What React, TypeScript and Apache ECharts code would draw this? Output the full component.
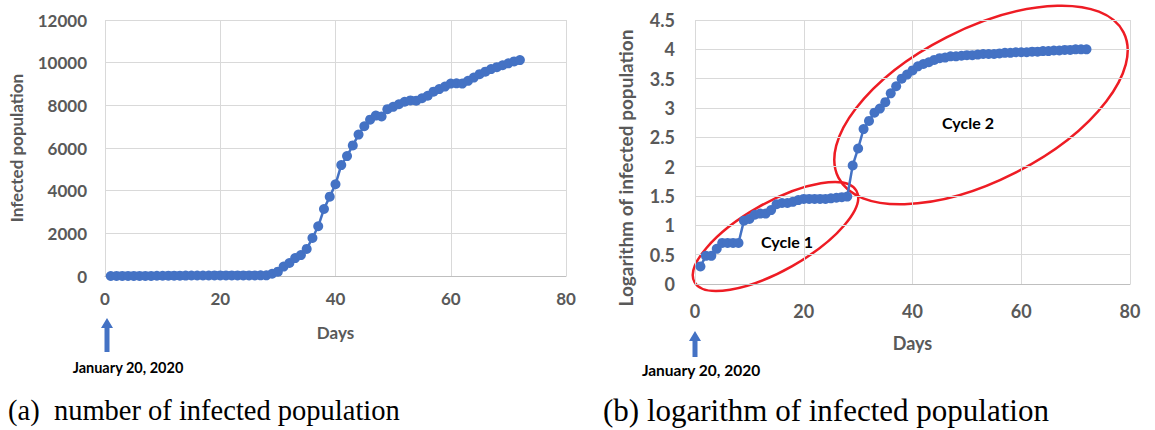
import React, { useEffect, useRef } from "react";
import * as echarts from "echarts";

const DAYS = [
  1, 2, 3, 4, 5, 6, 7, 8, 9, 10, 11, 12, 13, 14, 15, 16, 17, 18, 19, 20, 21, 22, 23, 24,
  25, 26, 27, 28, 29, 30, 31, 32, 33, 34, 35, 36, 37, 38, 39, 40, 41, 42, 43, 44, 45, 46, 47, 48,
  49, 50, 51, 52, 53, 54, 55, 56, 57, 58, 59, 60, 61, 62, 63, 64, 65, 66, 67, 68, 69, 70, 71, 72,
];

const INFECTED = [
  2, 3, 3, 4, 5, 5, 5, 5, 12, 13, 15, 16, 16, 18, 23, 24, 24, 25, 27, 28, 28, 28, 28, 28,
  29, 29, 30, 31, 104, 204, 440, 610, 840, 980, 1270, 1780, 2330, 3140, 3720, 4300, 5200, 5620, 6120, 6630, 7020, 7330, 7520, 7480,
  7820, 7930, 8050, 8170, 8230, 8220, 8330, 8450, 8640, 8760, 8880, 9020, 9030, 9020, 9150, 9300, 9460, 9580, 9700, 9790, 9880, 9970, 10060, 10120,
];

const LOG_INFECTED = [
  0.3, 0.48, 0.48, 0.6, 0.7, 0.7, 0.7, 0.7, 1.08, 1.11, 1.18, 1.2, 1.2, 1.26, 1.36, 1.38, 1.38, 1.4, 1.43, 1.45, 1.45, 1.45, 1.45, 1.45,
  1.46, 1.47, 1.48, 1.49, 2.02, 2.31, 2.64, 2.78, 2.92, 2.99, 3.1, 3.25, 3.37, 3.5, 3.57, 3.64, 3.71, 3.75, 3.78, 3.82, 3.85, 3.86, 3.88, 3.88,
  3.89, 3.9, 3.9, 3.91, 3.92, 3.92, 3.92, 3.93, 3.94, 3.94, 3.95, 3.95, 3.95, 3.96, 3.96, 3.97, 3.97, 3.98, 3.98, 3.99, 3.99, 4.0, 4.0, 4.0,
];

const X_MIN = 0;
const X_MAX = 80;
const X_STEP = 20;
const Y1_MAX = 12000;
const Y1_STEP = 2000;
const Y2_MAX = 4.5;
const Y2_STEP = 0.5;

const X_NAME = "Days";
const Y1_NAME = "Infected population";
const Y2_NAME = "Logarithm of infected population";
const START_LABEL = "January 20, 2020";
const CAPTION_A = "(a)  number of infected population";
const CAPTION_B = "(b) logarithm of infected population";
const CYCLE_LABELS = ["Cycle 1", "Cycle 2"];

const BLUE = "#4472C4";
const RED = "#EE1C24";
const GRID = "#D9D9D9";
const LABEL_GRAY = "#595959";
const FONT = "Lato, 'Open Sans', sans-serif";

export default function App() {
  const ref = useRef<HTMLDivElement>(null);

  useEffect(() => {
    if (!ref.current) return;
    const chart = echarts.init(ref.current, null, { renderer: "svg" });

    const labelStyle = (size: number) => ({
      color: LABEL_GRAY,
      fontFamily: FONT,
      fontWeight: "bold" as const,
      fontSize: size,
    });

    const plain = (v: number) => String(v);

    const xAxisBase = {
      type: "value" as const,
      min: X_MIN,
      max: X_MAX,
      interval: X_STEP,
      name: X_NAME,
      nameLocation: "middle" as const,
      axisLine: { show: true, lineStyle: { color: "#BFBFBF", width: 1 } },
      axisTick: { show: false },
      splitLine: { show: true, lineStyle: { color: GRID, width: 1 } },
    };

    const yAxisBase = {
      type: "value" as const,
      min: 0,
      nameLocation: "middle" as const,
      nameRotate: 90,
      axisLine: { show: false },
      axisTick: { show: false },
      splitLine: { show: true, lineStyle: { color: GRID, width: 1 } },
    };

    const seriesBase = {
      type: "line" as const,
      symbol: "circle",
      symbolSize: 10,
      itemStyle: { color: BLUE },
      lineStyle: { color: BLUE, width: 2.5 },
      emphasis: { disabled: true },
    };

    const arrow = (cx: number, top: number, bottom: number) => ({
      type: "polygon",
      shape: {
        points: [
          [cx, top],
          [cx + 6, top + 10],
          [cx + 2.5, top + 10],
          [cx + 2.5, bottom],
          [cx - 2.5, bottom],
          [cx - 2.5, top + 10],
          [cx - 6, top + 10],
        ],
      },
      style: { fill: BLUE },
    });

    const smallBold = (size: number) => ({
      fontFamily: FONT,
      fontWeight: "bold",
      fontSize: size,
      fill: "#000",
    });

    const caption = (size: number) => ({
      fontFamily: "'Liberation Serif', 'Times New Roman', serif",
      fontSize: size,
      fill: "#000",
    });

    chart.setOption({
      animation: false,
      grid: [
        { left: 105, top: 20, width: 461, height: 256 },
        { left: 695, top: 20, width: 435, height: 264 },
      ],
      xAxis: [
        {
          ...xAxisBase,
          gridIndex: 0,
          nameGap: 48,
          nameTextStyle: labelStyle(17),
          axisLabel: { ...labelStyle(17), margin: 14 },
        },
        {
          ...xAxisBase,
          gridIndex: 1,
          nameGap: 50,
          nameTextStyle: labelStyle(18),
          axisLabel: { ...labelStyle(18), margin: 18 },
        },
      ],
      yAxis: [
        {
          ...yAxisBase,
          gridIndex: 0,
          max: Y1_MAX,
          interval: Y1_STEP,
          name: Y1_NAME,
          nameGap: 80,
          nameTextStyle: labelStyle(17),
          axisLabel: { ...labelStyle(17), margin: 18, formatter: plain },
        },
        {
          ...yAxisBase,
          gridIndex: 1,
          max: Y2_MAX,
          interval: Y2_STEP,
          name: Y2_NAME,
          nameGap: 60,
          nameTextStyle: { ...labelStyle(19), padding: [0, 32, 0, 0] },
          axisLabel: { ...labelStyle(18), margin: 20, formatter: plain },
        },
      ],
      series: [
        {
          ...seriesBase,
          xAxisIndex: 0,
          yAxisIndex: 0,
          data: DAYS.map((d, i) => [d, INFECTED[i]]),
        },
        {
          ...seriesBase,
          xAxisIndex: 1,
          yAxisIndex: 1,
          data: DAYS.map((d, i) => [d, LOG_INFECTED[i]]),
        },
      ],
      graphic: [
        arrow(107, 318, 352),
        arrow(695, 331, 357),
        {
          type: "text",
          x: 128,
          y: 367,
          style: { ...smallBold(14.5), text: START_LABEL, align: "center", verticalAlign: "middle" },
        },
        {
          type: "text",
          x: 701,
          y: 370,
          style: { ...smallBold(15.5), text: START_LABEL, align: "center", verticalAlign: "middle" },
        },
        {
          type: "ellipse",
          x: 775.5,
          y: 236.5,
          rotation: (29.5 * Math.PI) / 180,
          shape: { cx: 0, cy: 0, rx: 93, ry: 34 },
          style: { fill: "none", stroke: RED, lineWidth: 2.5 },
        },
        {
          type: "ellipse",
          x: 981,
          y: 105,
          rotation: (27 * Math.PI) / 180,
          shape: { cx: 0, cy: 0, rx: 160, ry: 76 },
          style: { fill: "none", stroke: RED, lineWidth: 2.5 },
        },
        {
          type: "text",
          x: 787,
          y: 241,
          style: { ...smallBold(16), text: CYCLE_LABELS[0], align: "center", verticalAlign: "middle" },
        },
        {
          type: "text",
          x: 968,
          y: 122,
          style: { ...smallBold(16), text: CYCLE_LABELS[1], align: "center", verticalAlign: "middle" },
        },
        {
          type: "text",
          x: 8,
          y: 410,
          style: { ...caption(28.5), text: CAPTION_A, align: "left", verticalAlign: "middle" },
        },
        {
          type: "text",
          x: 603,
          y: 410,
          style: { ...caption(31), text: CAPTION_B, align: "left", verticalAlign: "middle" },
        },
      ],
    });

    return () => chart.dispose();
  }, []);

  return (
    <div
      ref={ref}
      style={{ position: "absolute", left: 0, top: 0, width: 1155, height: 430, background: "#fff" }}
    />
  );
}
